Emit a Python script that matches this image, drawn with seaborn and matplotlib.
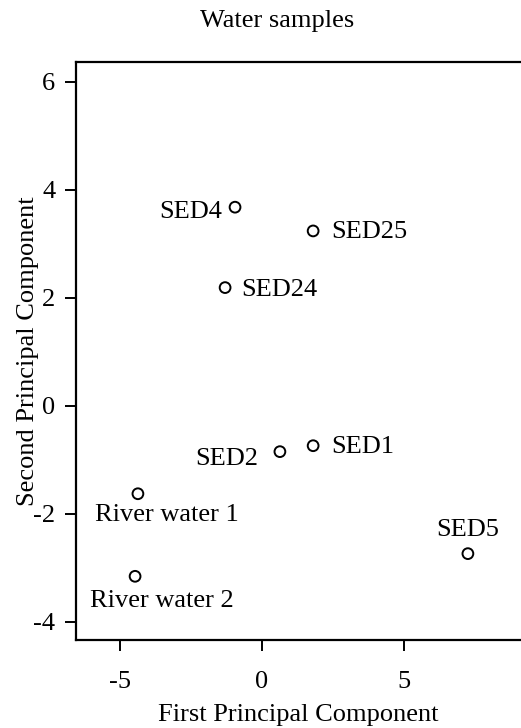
import seaborn as sns
import matplotlib.pyplot as plt
import pandas as pd

# PCA scores
samples = ['SED4', 'SED25', 'SED24', 'SED2', 'SED1', 'SED5', 'River water 1', 'River water 2']
pc1 = [-0.95, 1.80, -1.30, 0.63, 1.80, 7.25, -4.37, -4.47]
pc2 = [3.68, 3.24, 2.19, -0.85, -0.74, -2.74, -1.63, -3.16]

df = pd.DataFrame({'sample': samples, 'pc1': pc1, 'pc2': pc2})

sns.set_style('ticks')
plt.rcParams['font.family'] = ['Liberation Serif', 'DejaVu Serif']
plt.rcParams['axes.unicode_minus'] = False

fs = 19

fig = plt.figure(figsize=(5.21, 7.28), dpi=100)
ax = fig.add_axes([0.1459, 0.1209, 0.8541, 0.7939])

sns.scatterplot(data=df, x='pc1', y='pc2', ax=ax, s=60, facecolor='none',
                edgecolor='black', linewidth=1.4, clip_on=False)

# label placement (pixel offsets, alignment) per sample
offsets = {
    'SED4': ((-13, -5), 'right'),
    'SED25': ((18, -1), 'left'),
    'SED24': ((16, -2), 'left'),
    'SED2': ((-22, -7), 'right'),
    'SED1': ((18, -1), 'left'),
    'SED5': ((0, 24), 'center'),
    'River water 1': ((29, -21), 'center'),
    'River water 2': ((27, -25), 'center'),
}
for name, x, y in zip(samples, pc1, pc2):
    off, ha = offsets[name]
    ax.annotate(name, (x, y), xytext=off, textcoords='offset pixels',
                ha=ha, va='center', fontsize=fs, color='black')

ax.set_xlim(-6.55, 9.12)
ax.set_ylim(-4.34, 6.37)
ax.set_xticks([-5, 0, 5])
ax.set_yticks([-4, -2, 0, 2, 4, 6])

for side in ['left', 'top', 'bottom']:
    ax.spines[side].set_linewidth(1.6)
    ax.spines[side].set_color('black')
ax.spines['right'].set_visible(False)
ax.tick_params(length=8, width=1.4, labelsize=fs, colors='black')
ax.tick_params(axis='x', pad=14)
ax.tick_params(axis='y', pad=7)

ax.set_xlabel('First Principal Component', fontsize=fs, labelpad=8, color='black')
ax.set_ylabel('Second Principal Component', fontsize=fs, labelpad=-4, color='black')
fig.suptitle('Water samples', fontsize=fs, x=0.532, y=0.986, color='black')

fig.savefig('out.png', dpi=100)
